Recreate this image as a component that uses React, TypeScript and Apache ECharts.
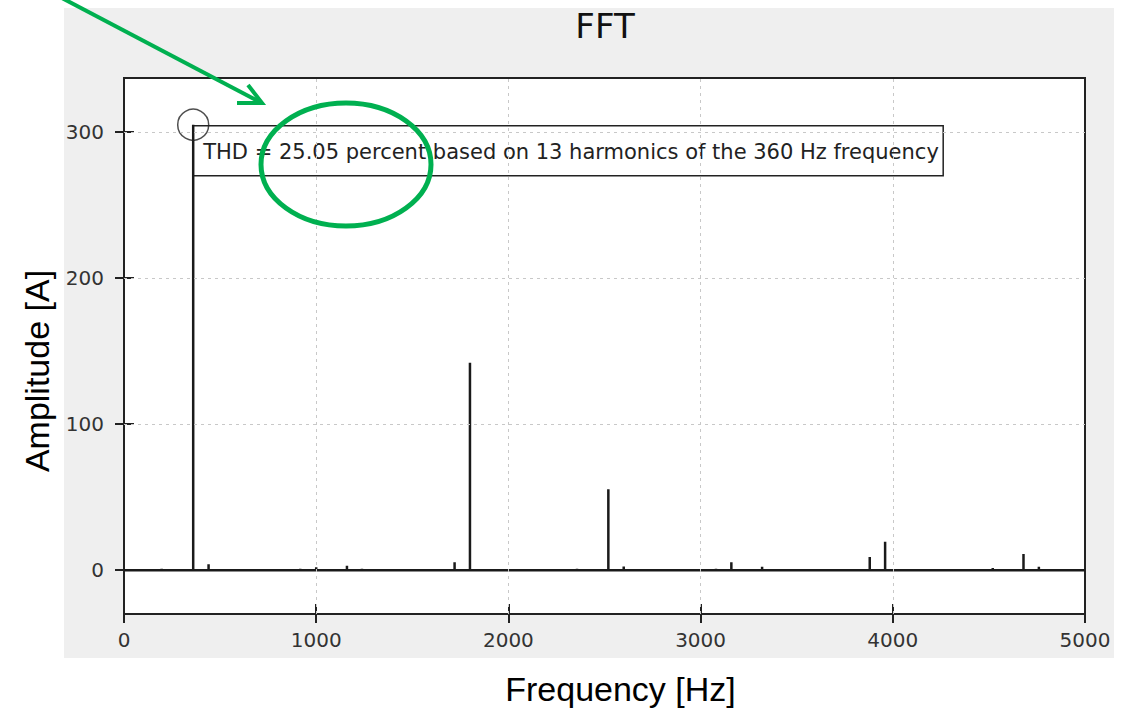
import React, { useEffect, useRef } from "react";
import * as echarts from "echarts";

// ---- data ----
const peakFreqs = [196, 360, 440, 917, 1000, 1160, 1238, 1720, 1800, 2357, 2520, 2600, 3080, 3160, 3320, 3880, 3960, 4520, 4680, 4760];
const peakAmps = [1, 305, 4, 1, 2, 3, 1, 5.5, 142, 1, 55.5, 2.5, 1, 5.5, 2.3, 9, 19.4, 1.5, 11, 2.3];
const freqRange = [0, 5000];
const xGridValues = [1000, 2000, 3000, 4000];
const yTickValues = [0, 100, 200, 300];
const yGridValues = [100, 200, 300];
const fundamental = [360, 305];
const titleText = "FFT";
const xName = "Frequency [Hz]";
const yName = "Amplitude [A]";
const thdText = "THD = 25.05 percent based on 13 harmonics of the 360 Hz frequency";

const GREEN = "#00B050";
const INK = "#222222";

function buildSpectrum(): number[][] {
  const pts: number[][] = [[freqRange[0], 0]];
  peakFreqs.forEach((f, i) => {
    pts.push([f, 0], [f, peakAmps[i]], [f, 0]);
  });
  pts.push([freqRange[1], 0]);
  return pts;
}

export default function App() {
  const ref = useRef<HTMLDivElement>(null);

  useEffect(() => {
    if (!ref.current) return;
    const chart = echarts.init(ref.current, null, { renderer: "svg" });
    const tickFont = { color: "#333", fontSize: 20, fontFamily: "DejaVu Sans", formatter: (v: number) => String(v) };
    const nameFont = { color: "#000", fontSize: 34, fontFamily: "Liberation Sans, Arial" };

    const option: any = {
      animation: false,
      backgroundColor: "transparent",
      title: {
        text: titleText,
        left: 600,
        textAlign: "center",
        top: 4,
        padding: 5,
        textStyle: { color: "#111", fontSize: 34, fontWeight: "normal", fontFamily: "DejaVu Sans" },
      },
      grid: {
        left: 124,
        top: 78,
        width: 961,
        height: 536,
        show: true,
        backgroundColor: "#ffffff",
        borderColor: INK,
        borderWidth: 2,
      },
      xAxis: [
        {
          type: "value",
          min: freqRange[0],
          max: freqRange[1],
          interval: 1000,
          position: "bottom",
          name: xName,
          nameLocation: "middle",
          nameGap: 58,
          nameTextStyle: { ...nameFont, padding: [0, 0, 0, 32] },
          axisLine: { show: true, onZero: false, lineStyle: { color: INK, width: 2 } },
          axisTick: { show: true, inside: false, length: 9, lineStyle: { color: INK, width: 2 } },
          axisLabel: { ...tickFont, margin: 16 },
          splitLine: { show: false },
        },
        {
          type: "value",
          min: freqRange[0],
          max: freqRange[1],
          interval: 1000,
          position: "bottom",
          axisLine: { show: false, onZero: false },
          axisTick: { show: true, inside: true, length: 10, lineStyle: { color: INK, width: 2 } },
          axisLabel: { show: false },
          splitLine: { show: false },
        },
      ],
      yAxis: [
        {
          type: "value",
          min: -30,
          max: 337,
          position: "left",
          name: yName,
          nameLocation: "middle",
          nameRotate: 90,
          nameGap: 70,
          nameTextStyle: { ...nameFont, padding: [0, 50, 0, 0] },
          axisLine: { show: true, onZero: false, lineStyle: { color: INK, width: 2 } },
          axisTick: { show: true, inside: false, length: 9, customValues: yTickValues, lineStyle: { color: INK, width: 2 } },
          axisLabel: { ...tickFont, margin: 20, customValues: yTickValues },
          splitLine: { show: false },
        },
        {
          type: "value",
          min: -30,
          max: 337,
          position: "left",
          axisLine: { show: false, onZero: false },
          axisTick: { show: true, inside: true, length: 10, customValues: yTickValues, lineStyle: { color: INK, width: 2 } },
          axisLabel: { show: false, customValues: yTickValues },
          splitLine: { show: false },
        },
      ],
      series: [
        {
          name: "grid",
          type: "line",
          xAxisIndex: 0,
          yAxisIndex: 0,
          data: [],
          z: 1,
          silent: true,
          markLine: {
            silent: true,
            symbol: "none",
            label: { show: false },
            lineStyle: { color: "#c8c8c8", width: 1, type: [3, 4] },
            data: [
              ...xGridValues.map((v) => ({ xAxis: v })),
              ...yGridValues.map((v) => ({ yAxis: v })),
            ],
          },
        },
        {
          name: "spectrum",
          type: "line",
          xAxisIndex: 0,
          yAxisIndex: 0,
          data: buildSpectrum(),
          symbol: "none",
          z: 3,
          silent: true,
          lineStyle: { color: "#1a1a1a", width: 2.5 },
        },
        {
          name: "fundamental",
          type: "scatter",
          xAxisIndex: 0,
          yAxisIndex: 0,
          data: [fundamental],
          symbol: "circle",
          symbolSize: 31,
          z: 4,
          silent: true,
          itemStyle: { color: "rgba(0,0,0,0)", borderColor: INK, borderWidth: 1.5 },
        },
      ],
    };

    chart.setOption(option);

    const p = chart.convertToPixel({ xAxisIndex: 0, yAxisIndex: 0 }, fundamental) as number[];
    const bx = p[0];
    const by = p[1] + 1;

    chart.setOption({
      graphic: [
        {
          type: "rect",
          z: 2,
          silent: true,
          shape: { x: bx, y: by, width: 750, height: 50 },
          style: { fill: "#ffffff", stroke: INK, lineWidth: 1.5 },
        },
        {
          type: "text",
          z: 2,
          silent: true,
          x: bx + 10,
          y: by + 26,
          style: {
            text: thdText,
            fill: "#222",
            fontSize: 21,
            fontFamily: "DejaVu Sans",
            verticalAlign: "middle",
            align: "left",
          },
        },
        {
          type: "ellipse",
          z: 10,
          silent: true,
          shape: { cx: 346, cy: 164.5, rx: 85, ry: 61.5 },
          style: { fill: "none", stroke: GREEN, lineWidth: 5 },
        },
        {
          type: "line",
          z: 10,
          silent: true,
          shape: { x1: 60, y1: -3, x2: 260, y2: 102 },
          style: { stroke: GREEN, lineWidth: 4 },
        },
        {
          type: "polyline",
          z: 10,
          silent: true,
          shape: { points: [[237, 103], [262, 103], [248, 85]] },
          style: { stroke: GREEN, lineWidth: 4, fill: "none", lineJoin: "miter" },
        },
      ],
    });

    return () => chart.dispose();
  }, []);

  return (
    <div style={{ position: "absolute", left: 0, top: 0, width: 1129, height: 713, background: "#ffffff" }}>
      <div style={{ position: "absolute", left: 64, top: 8, width: 1050, height: 650, background: "#efefef" }} />
      <div ref={ref} style={{ position: "absolute", left: 0, top: 0, width: 1129, height: 713 }} />
    </div>
  );
}
